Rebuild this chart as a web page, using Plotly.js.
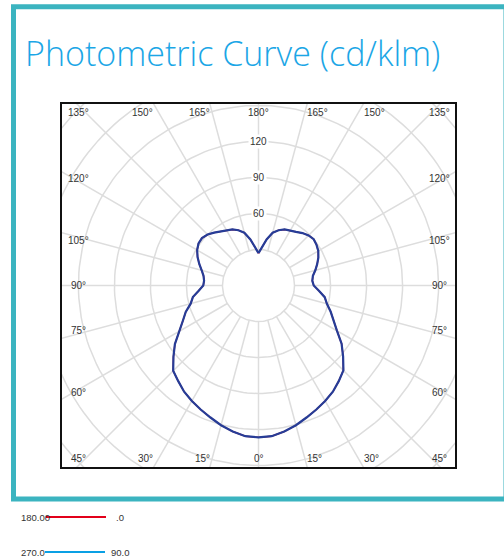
<!DOCTYPE html>
<html>
<head>
<meta charset="utf-8">
<script src="https://cdn.plot.ly/plotly-3.0.1.min.js"></script>
<style>
  html, body { margin: 0; padding: 0; background: #ffffff; }
  #chart { width: 504px; height: 559px; }
</style>
</head>
<body>
<div id="chart"></div>
<script>
// ---- Data (cd/klm), gamma in degrees (0 = straight down) ----
const gamma = [0,5,10,15,20,25,30,35,40,45,50,55,60,65,70,75,80,85,90,95,100,105,110,115,120,125,130,135,140,145,150,155,160,165,170,175,180];
const c0   = [126.5,126,123.5,120.5,117,114,111,108,104,100,92,84.5,75.5,69,64,59,56,50.5,46,45,46,49,52,55,57.5,59,60,59,57,54.5,53,51.5,49,45.5,39,32,27];
const c180 = [126.5,126,123.5,120.5,117,114,111,108,104,100.5,92.5,85,76,69.5,64.5,58.5,55.5,50,46,45.5,46.5,49,52.5,56,59,61,61.5,60,57.5,55,53,51.5,49,45.5,39,32,27];
const c90  = [126.5,126,123.5,120.5,117,114,111,108,104,100,92,84.5,75.5,69,64,59,56,50.5,46,45,46,49,52,55,57.5,59,60,59,57,54.5,53,51.5,49,45.5,39,32,27];
const c270 = [126.5,126,123.5,120.5,117,114,111,108,104,100.5,92.5,85,76,69.5,64.5,58.5,55.5,50,46,45.5,46.5,49,52.5,56,59,61,61.5,60,57.5,55,53,51.5,49,45.5,39,32,27];

const seriesNames = ["C0-C180", "C90-C270"];
const legendLeft  = ["180.00", "270.0"];
const legendRight = [".0", "90.0"];

const gridRadii   = [30,60,90,120,150,180,210,240];
const radialLabels = [60,90,120];
const spokeAngles = [0,15,30,45,60,75,90,105,120,135,150,165,180];

// ---- helpers ----
const rad = d => d * Math.PI / 180;
function planeXY(rightVals, leftVals) {
  const x = [], y = [];
  for (let i = gamma.length - 1; i >= 0; i--) {      // left half, 180 -> 0
    x.push(-leftVals[i] * Math.sin(rad(gamma[i])));
    y.push(-leftVals[i] * Math.cos(rad(gamma[i])));
  }
  for (let i = 0; i < gamma.length; i++) {           // right half, 0 -> 180
    x.push(rightVals[i] * Math.sin(rad(gamma[i])));
    y.push(-rightVals[i] * Math.cos(rad(gamma[i])));
  }
  return {x, y};
}

const xr = [-164.5, 164.5], yr = [-152, 152];
const plotW = 395;
const pxPerUnit = plotW / (xr[1] - xr[0]);

const traces = [];
// grid circles
gridRadii.forEach(r => {
  const x = [], y = [];
  for (let a = 0; a <= 360; a += 2) { x.push(r * Math.cos(rad(a))); y.push(r * Math.sin(rad(a))); }
  traces.push({type:'scatter', mode:'lines', x, y, line:{color:'#dddddd', width:1.5}, hoverinfo:'skip', showlegend:false});
});
// spokes
spokeAngles.forEach(g => {
  [1, -1].forEach(s => {
    if ((g === 0 || g === 180) && s === -1) return;
    const r0 = gridRadii[0], r1 = 400;
    traces.push({type:'scatter', mode:'lines',
      x:[s*r0*Math.sin(rad(g)), s*r1*Math.sin(rad(g))],
      y:[-r0*Math.cos(rad(g)), -r1*Math.cos(rad(g))],
      line:{color:'#dddddd', width:1.5}, hoverinfo:'skip', showlegend:false});
  });
});
// curves
const redXY = planeXY(c0, c180);
const blueXY = planeXY(c90, c270);
traces.push({type:'scatter', mode:'lines', name:seriesNames[0], x:redXY.x, y:redXY.y, line:{color:'#e2001a', width:1.4}, showlegend:false});
traces.push({type:'scatter', mode:'lines', name:seriesNames[1], x:blueXY.x, y:blueXY.y, line:{color:'#263d97', width:2.2}, showlegend:false});

// ---- annotations ----
const annotations = [];
const lblFont = {family:'Liberation Sans, Arial, sans-serif', size:10, color:'#333333'};
const ix = 17 / pxPerUnit, iy = 9.5 / pxPerUnit, gap = 1 / pxPerUnit;
const xl = xr[0] + ix, xh = xr[1] - ix, yl = yr[0] + iy, yh = yr[1] - iy;
spokeAngles.forEach(g => {
  [1, -1].forEach(s => {
    if ((g === 0 || g === 180) && s === -1) return;
    const dx = s * Math.sin(rad(g)), dy = -Math.cos(rad(g));
    const txt = g + '°';
    if (g === 45 || g === 135) {            // corners
      annotations.push({x: s > 0 ? xh : xl, y: g === 45 ? yl : yh, xref:'x', yref:'y', text: txt, showarrow:false,
        xanchor:'center', yanchor:'middle', font: lblFont});
      return;
    }
    // intersection with the actual frame
    const tx = Math.abs(dx) > 1e-9 ? (dx > 0 ? xr[1] / dx : xr[0] / dx) : Infinity;
    const ty = Math.abs(dy) > 1e-9 ? (dy > 0 ? yr[1] / dy : yr[0] / dy) : Infinity;
    if (ty <= tx) {                          // top / bottom edge
      const xi = ty * dx;
      const a = {x: xi, y: dy > 0 ? yh : yl, xref:'x', yref:'y', text: txt, showarrow:false, yanchor:'middle', font: lblFont};
      if (g === 0 || g === 180) a.xanchor = 'center';
      else if (s > 0) { a.xanchor = 'left'; a.x = xi - 2*gap; }
      else { a.xanchor = 'right'; a.x = xi + 2*gap; }
      annotations.push(a);
    } else {                                 // left / right edge
      const yi = tx * dy;
      annotations.push({x: s > 0 ? xh : xl, y: yi, xref:'x', yref:'y', text: txt, showarrow:false,
        xanchor:'center', yanchor: g < 90 ? 'bottom' : (g > 90 ? 'top' : 'middle'), font: lblFont});
    }
  });
});
radialLabels.forEach(r => {
  annotations.push({x:0, y:r, xref:'x', yref:'y', text:String(r), showarrow:false,
    xanchor:'center', yanchor:'middle', bgcolor:'#ffffff', borderpad:1, font: lblFont});
});

// page geometry helpers (pixels -> paper)
const mL = 61, mR = 48, mT = 103, mB = 91, H = 559;
const plotH = H - mT - mB;
const px = p => (p - mL) / plotW;
const py = p => (H - mB - p) / plotH;

const legendColors = ['#e2001a', '#0aa0e4'];
const legY = [517, 552];
const legFont = {family:'Liberation Sans, Arial, sans-serif', size:9.5, color:'#333333'};
const shapes = [
  {type:'rect', xref:'paper', yref:'paper', x0:0, x1:1, y0:0, y1:1, line:{color:'#111111', width:2}},
  {type:'rect', xref:'paper', yref:'paper', x0:px(13.5), x1:px(506), y0:py(499), y1:py(6.8), line:{color:'#3bb4c0', width:5}}
];
legendLeft.forEach((t, i) => {
  annotations.push({xref:'paper', yref:'paper', x:px(19), y:py(legY[i]), text:t, showarrow:false, xanchor:'left', yanchor:'middle', font:legFont});
  annotations.push({xref:'paper', yref:'paper', x:px(i === 0 ? 114 : 109), y:py(legY[i]), text:legendRight[i], showarrow:false, xanchor:'left', yanchor:'middle', font:legFont});
  shapes.push({type:'line', xref:'paper', yref:'paper', x0:px(i === 0 ? 46 : 45), x1:px(i === 0 ? 106 : 105), y0:py(legY[i]), y1:py(legY[i]), line:{color:legendColors[i], width:2}});
});

const layout = {
  width:504, height:559,
  margin:{l:mL, r:mR, t:mT, b:mB, pad:0},
  paper_bgcolor:'#ffffff', plot_bgcolor:'#ffffff',
  title:{text:'Photometric Curve (cd/klm)', xref:'container', yref:'container', x:25/504, xanchor:'left', y:1 - 54/559, yanchor:'middle',
    font:{family:'Open Sans, sans-serif', size:34, color:'#1ba6e6', weight:300}},
  xaxis:{range:xr, visible:false, fixedrange:true},
  yaxis:{range:yr, visible:false, fixedrange:true},
  showlegend:false,
  annotations, shapes
};
Plotly.newPlot('chart', traces, layout, {displayModeBar:false, staticPlot:true});
</script>
</body>
</html>
